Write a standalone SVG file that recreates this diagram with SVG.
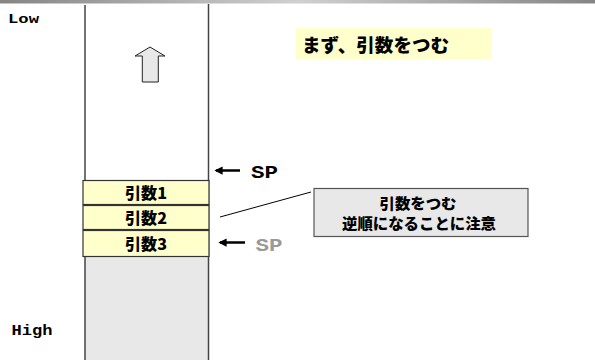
<svg xmlns="http://www.w3.org/2000/svg" width="595" height="360" viewBox="0 0 595 360">
<defs>
<linearGradient id="topbar" x1="0" y1="0" x2="1" y2="0">
<stop offset="0" stop-color="#858585"/>
<stop offset="0.5" stop-color="#d0d0d0"/>
<stop offset="1" stop-color="#858585"/>
</linearGradient>
<marker id="ah" viewBox="0 0 10 10" refX="8" refY="5" markerWidth="3.3" markerHeight="3.3" orient="auto">
<path d="M0,0 L10,5 L0,10 Z" fill="#000"/>
</marker>
</defs>
<style>
.mono{font-family:"Liberation Mono","DejaVu Sans Mono",monospace;font-weight:bold}
.jp{font-family:"Noto Sans CJK JP","Noto Sans",sans-serif;font-weight:900;fill:#000}
.cell{fill:#ffffcc;stroke:#333;stroke-width:1.2}
.col{stroke:#444;stroke-width:1.5;fill:none}
</style>
<rect x="0" y="0" width="595" height="3.5" fill="url(#topbar)"/>
<text class="mono" x="8" y="23" font-size="12" textLength="31" lengthAdjust="spacingAndGlyphs">Low</text>
<text class="mono" x="11.5" y="335" font-size="14" textLength="41" lengthAdjust="spacingAndGlyphs">High</text>
<g id="stack">
<rect x="85" y="257" width="123" height="103" fill="#e8e8e8"/>
<line class="col" x1="85" y1="5" x2="85" y2="360"/>
<line class="col" x1="208.5" y1="4" x2="208.5" y2="360"/>
</g>
<g id="uparrow">
<path d="M150,47 L165,56 L158.3,56 L158.3,82 L142.3,82 L142.3,56 L135,56 Z" fill="#e8e8e8" stroke="#222" stroke-width="1"/>
</g>
<g id="arg1">
<rect class="cell" x="83" y="180.5" width="126" height="24"/>
<text class="jp" x="146" y="198.5" font-size="15.5" text-anchor="middle" textLength="42" lengthAdjust="spacingAndGlyphs">引数1</text>
</g>
<g id="arg2">
<rect class="cell" x="83" y="205.5" width="126" height="24"/>
<text class="jp" x="146" y="223.5" font-size="15.5" text-anchor="middle" textLength="42" lengthAdjust="spacingAndGlyphs">引数2</text>
</g>
<g id="arg3">
<rect class="cell" x="83" y="230.5" width="126" height="26"/>
<text class="jp" x="146" y="249.5" font-size="15.5" text-anchor="middle" textLength="42" lengthAdjust="spacingAndGlyphs">引数3</text>
</g>
<g id="title">
<rect x="296" y="28" width="195" height="31" fill="#ffffcc"/>
<text class="jp" x="302" y="52" font-size="18.5" textLength="147" lengthAdjust="spacingAndGlyphs">まず、引数をつむ</text>
</g>
<g id="note">
<rect x="314" y="188.5" width="214" height="48" fill="#e8e8e8" stroke="#555" stroke-width="1.2"/>
<text class="jp" x="418" y="208.5" font-size="15" text-anchor="middle" textLength="77" lengthAdjust="spacingAndGlyphs">引数をつむ</text>
<text class="jp" x="419" y="229" font-size="15" text-anchor="middle" textLength="154" lengthAdjust="spacingAndGlyphs">逆順になることに注意</text>
</g>
<g id="sp1">
<text class="mono" x="251" y="178" font-size="19" fill="#000" textLength="27" lengthAdjust="spacingAndGlyphs">SP</text>
</g>
<g id="sp2">
<text class="mono" x="255.5" y="251" font-size="19" fill="#999" textLength="27" lengthAdjust="spacingAndGlyphs">SP</text>
</g>
<g id="connectors">
<line x1="240" y1="170.5" x2="216" y2="170.5" stroke="#000" stroke-width="2.5" marker-end="url(#ah)"/>
<line x1="245" y1="242.5" x2="220" y2="242.5" stroke="#000" stroke-width="2.5" marker-end="url(#ah)"/>
<line x1="220" y1="217" x2="311" y2="192" stroke="#000" stroke-width="1"/>
</g>
</svg>
